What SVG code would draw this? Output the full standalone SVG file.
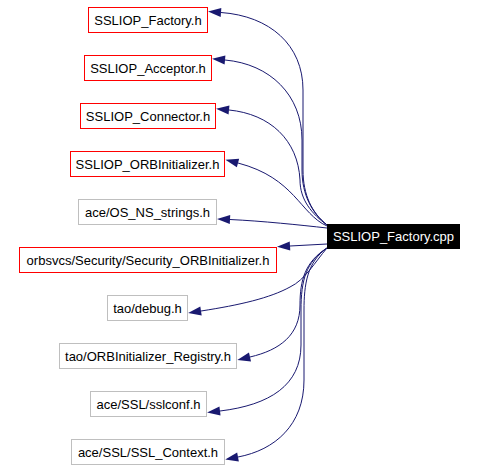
<svg xmlns="http://www.w3.org/2000/svg" width="478" height="470" viewBox="0 0 478 470">
<style>
text{font-family:"Liberation Sans",Arial,sans-serif;font-size:13px;text-anchor:middle;fill:#000}
.red{fill:#fff;stroke:#ff0000;stroke-width:1}
.grey{fill:#fff;stroke:#bfbfbf;stroke-width:1}
.edge{fill:none;stroke:#191970;stroke-width:1}
</style>
<defs>
<marker id="arr" markerUnits="userSpaceOnUse" markerWidth="13" markerHeight="9" viewBox="0 0 13 9" refX="0" refY="4.5" orient="auto" overflow="visible">
<path d="M0,0 L13,4.5 L0,9 z" fill="#191970"/>
</marker>
</defs>
<rect width="478" height="470" fill="#fff"/>
<g id="edges">
<path class="edge" marker-end="url(#arr)" d="M327,225 C312,213 303,195 303,170 L303,90 C303,45 270,16 221,12.5"/>
<path class="edge" marker-end="url(#arr)" d="M327,225 C312,213 302,195 302,170 L302,140 C302,95 270,64 225,60"/>
<path class="edge" marker-end="url(#arr)" d="M327,225 C312,214 300,200 300,180 C298,140 270,114 229,110"/>
<path class="edge" marker-end="url(#arr)" d="M327,226 C300,214 295,178 238,163"/>
<path class="edge" marker-end="url(#arr)" d="M327,228 C300,225 262,221 230,219.5"/>
<path class="edge" marker-end="url(#arr)" d="M327,244 L290,246"/>
<path class="edge" marker-end="url(#arr)" d="M327,248 C315,262 305,280 290,287 C270,298 240,305 201,311"/>
<path class="edge" marker-end="url(#arr)" d="M327,248 C305,262 300,280 300,305 C300,335 280,350 250,357"/>
<path class="edge" marker-end="url(#arr)" d="M327,248 C306,262 301,280 301,310 L301,345 C301,385 270,405 220,411"/>
<path class="edge" marker-end="url(#arr)" d="M327,248 C307,262 304,285 304,310 L304,380 C304,425 275,450 238,457"/>
</g>
<g id="main">
<rect x="327.5" y="224.5" width="132" height="24" fill="#000" stroke="#000"/>
<text x="393.5" y="241" style="fill:#fff">SSLIOP_Factory.cpp</text>
</g>
<g id="n1"><rect class="red" x="88.5" y="7.5" width="119" height="25"/><text x="148" y="25">SSLIOP_Factory.h</text></g>
<g id="n2"><rect class="red" x="84.5" y="55.5" width="127" height="25"/><text x="148" y="73">SSLIOP_Acceptor.h</text></g>
<g id="n3"><rect class="red" x="80.5" y="103.5" width="135" height="25"/><text x="148" y="121">SSLIOP_Connector.h</text></g>
<g id="n4"><rect class="red" x="70.5" y="151.5" width="154" height="25"/><text x="147.5" y="169">SSLIOP_ORBInitializer.h</text></g>
<g id="n5"><rect class="grey" x="78.5" y="199.5" width="138" height="25"/><text x="147.5" y="217">ace/OS_NS_strings.h</text></g>
<g id="n6"><rect class="red" x="19.5" y="247.5" width="257" height="25"/><text x="148" y="265">orbsvcs/Security/Security_ORBInitializer.h</text></g>
<g id="n7"><rect class="grey" x="107.5" y="295.5" width="80" height="25"/><text x="147.5" y="313">tao/debug.h</text></g>
<g id="n8"><rect class="grey" x="59.5" y="343.5" width="177" height="25"/><text x="148" y="361">tao/ORBInitializer_Registry.h</text></g>
<g id="n9"><rect class="grey" x="90.5" y="391.5" width="116" height="25"/><text x="148.5" y="409">ace/SSL/sslconf.h</text></g>
<g id="n10"><rect class="grey" x="71.5" y="439.5" width="153" height="25"/><text x="148" y="457">ace/SSL/SSL_Context.h</text></g>
</svg>
